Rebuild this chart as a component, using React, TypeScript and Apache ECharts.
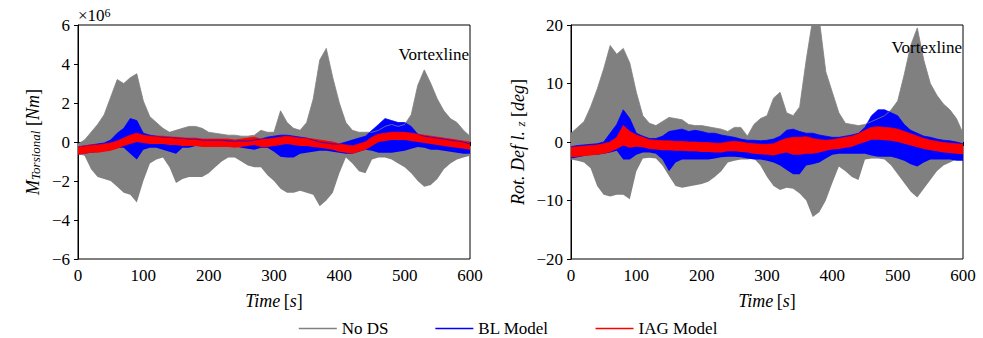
import React, { useEffect, useRef } from 'react';
import * as echarts from 'echarts';

// time grid [s]
const time = [0,10,20,30,40,50,60,70,80,90,100,110,120,130,140,150,160,170,180,190,200,210,220,230,240,250,260,270,280,290,300,310,320,330,340,350,360,370,380,390,400,410,420,430,440,450,460,470,480,490,500,510,520,530,540,550,560,570,580,590,600];

// ---- Left panel: M_Torsional [x1e6 Nm] envelopes ----
const mNoDsUpper = [-0.1,0.1,0.5,0.9,1.4,2.3,3.2,3.0,3.3,3.5,2.1,1.3,1.0,0.7,0.5,0.6,0.7,0.8,0.8,0.7,0.5,0.45,0.4,0.35,0.35,0.3,0.3,0.35,0.6,0.5,0.5,1.6,1.0,0.7,0.6,1.0,2.2,4.2,4.8,3.3,2.0,1.0,0.6,0.5,0.5,0.5,0.6,0.8,0.9,0.8,0.9,1.4,2.9,3.7,3.0,2.2,1.6,1.2,1.0,0.6,0.3];
const mNoDsLower = [-0.6,-0.7,-1.4,-1.8,-1.9,-2.0,-2.3,-2.6,-2.7,-3.1,-2.0,-1.1,-0.9,-0.8,-1.3,-2.1,-1.9,-1.8,-1.8,-1.8,-1.6,-1.3,-1.0,-0.8,-0.8,-1.0,-1.2,-1.3,-1.3,-1.7,-2.0,-2.4,-2.6,-2.6,-2.5,-2.6,-2.7,-3.3,-3.0,-2.6,-1.6,-0.8,-1.1,-1.5,-1.6,-0.9,-0.8,-0.8,-0.9,-1.1,-1.3,-1.6,-2.0,-2.3,-2.2,-1.9,-1.4,-1.1,-0.9,-0.8,-0.7];
const mBlUpper = [-0.25,-0.2,-0.15,-0.1,-0.05,0.1,0.45,0.7,1.2,1.1,0.45,0.35,0.3,0.25,0.25,0.2,0.2,0.15,0.15,0.1,0.1,0.1,0.1,0.05,0.05,0.05,0.05,0.1,0.15,0.25,0.3,0.35,0.35,0.3,0.25,0.2,0.1,0.0,-0.05,-0.1,-0.1,0.0,0.1,0.2,0.3,0.6,0.9,1.2,1.1,1.0,1.0,0.8,0.4,0.3,0.25,0.2,0.15,0.1,0.05,0.0,-0.1];
const mBlLower = [-0.65,-0.6,-0.55,-0.5,-0.45,-0.4,-0.3,-0.3,-0.6,-0.9,-0.4,-0.3,-0.3,-0.4,-0.5,-0.6,-0.3,-0.3,-0.2,-0.2,-0.2,-0.15,-0.15,-0.2,-0.2,-0.3,-0.35,-0.4,-0.3,-0.3,-0.5,-0.75,-0.8,-0.8,-0.6,-0.55,-0.5,-0.45,-0.45,-0.5,-0.55,-0.6,-0.6,-0.5,-0.4,-0.45,-0.55,-0.55,-0.55,-0.5,-0.45,-0.35,-0.25,-0.3,-0.4,-0.4,-0.45,-0.5,-0.55,-0.6,-0.6];
const mIagUpper = [-0.25,-0.2,-0.15,-0.15,-0.1,-0.05,0.05,0.2,0.35,0.45,0.35,0.3,0.3,0.3,0.25,0.25,0.2,0.2,0.2,0.15,0.15,0.15,0.15,0.15,0.1,0.15,0.2,0.25,0.15,0.15,0.2,0.25,0.3,0.25,0.2,0.2,0.15,0.1,0.05,0.0,-0.1,-0.15,-0.2,-0.1,0.0,0.25,0.4,0.45,0.5,0.5,0.5,0.45,0.4,0.35,0.3,0.25,0.2,0.15,0.1,0.05,0.0];
const mIagLower = [-0.65,-0.6,-0.55,-0.55,-0.5,-0.45,-0.35,-0.2,-0.1,0.0,-0.05,-0.1,-0.1,-0.1,-0.15,-0.15,-0.2,-0.2,-0.2,-0.25,-0.25,-0.25,-0.25,-0.25,-0.3,-0.25,-0.2,-0.15,-0.25,-0.25,-0.2,-0.15,-0.1,-0.15,-0.2,-0.2,-0.25,-0.3,-0.35,-0.4,-0.5,-0.55,-0.6,-0.5,-0.4,-0.2,0.0,0.05,0.1,0.1,0.1,0.05,0.0,-0.05,-0.1,-0.15,-0.2,-0.25,-0.3,-0.35,-0.4];

// ---- Right panel: Rot. Defl. z [deg] envelopes ----
const rNoDsUpper = [1.5,2.5,3.5,6.0,9.0,12.5,16.5,15.0,16.0,13.5,8.5,4.5,3.2,2.8,3.5,4.2,4.0,3.8,3.0,2.8,2.8,2.6,2.4,2.2,1.8,2.5,2.5,1.0,3.0,4.0,4.5,7.5,8.5,5.0,4.5,6.0,14.0,21.0,21.0,12.0,8.5,5.0,3.2,3.0,2.8,3.0,3.5,4.0,4.5,5.5,7.0,11.5,16.5,19.5,14.0,10.0,8.0,6.5,5.5,4.0,1.5];
const rNoDsLower = [-3.0,-3.2,-3.5,-4.5,-7.5,-9.0,-9.3,-9.0,-9.0,-9.8,-5.0,-2.8,-2.7,-2.8,-4.0,-5.8,-7.5,-7.8,-7.6,-7.4,-7.2,-6.8,-6.0,-5.0,-3.5,-3.2,-3.0,-3.0,-2.8,-4.0,-6.0,-7.5,-8.2,-7.8,-8.0,-8.8,-10.0,-12.8,-12.0,-10.0,-7.0,-4.2,-5.0,-6.0,-6.5,-3.0,-2.8,-2.8,-3.0,-4.0,-5.5,-7.0,-8.5,-9.5,-8.0,-6.5,-5.0,-4.0,-3.5,-3.0,-3.0];
const rBlUpper = [-0.8,-0.6,-0.5,-0.4,-0.3,0.0,1.5,3.0,5.5,4.0,1.5,1.0,0.6,0.6,1.0,1.8,2.0,2.2,1.8,2.0,1.8,1.5,1.5,1.2,1.0,0.8,0.5,0.3,0.3,0.2,0.3,0.5,1.0,2.0,2.2,1.8,1.5,1.5,1.2,1.0,0.8,0.8,1.0,1.2,1.5,2.5,4.5,5.5,5.5,5.0,4.5,3.0,2.0,1.5,1.0,0.8,0.5,0.3,0.2,0.0,-0.3];
const rBlLower = [-2.8,-2.6,-2.4,-2.2,-2.2,-2.0,-1.8,-1.5,-3.0,-3.0,-2.2,-1.8,-1.8,-2.0,-3.0,-5.0,-3.5,-3.0,-3.0,-3.0,-3.0,-3.0,-2.8,-2.6,-2.5,-2.5,-2.6,-2.8,-3.0,-3.0,-3.2,-3.5,-4.0,-4.8,-5.5,-5.5,-4.0,-3.8,-3.5,-2.8,-2.2,-2.0,-2.0,-2.0,-2.0,-2.0,-2.3,-2.5,-2.5,-2.5,-2.8,-3.2,-3.8,-4.2,-3.5,-3.0,-3.0,-3.0,-3.0,-3.2,-3.2];
const rIagUpper = [-0.9,-0.8,-0.7,-0.6,-0.5,-0.3,0.0,0.8,2.8,1.8,1.2,0.8,0.4,0.3,0.2,0.2,0.1,0.1,0.0,0.0,-0.1,-0.1,-0.2,-0.2,0.0,0.1,0.0,-0.2,-0.3,-0.4,-0.4,-0.3,0.2,0.6,0.8,0.8,0.9,0.6,0.4,0.3,0.4,0.6,0.8,1.0,1.4,2.0,2.5,2.6,2.5,2.4,2.2,1.8,1.4,1.0,0.6,0.3,0.1,-0.1,-0.2,-0.3,-0.4];
const rIagLower = [-2.6,-2.5,-2.4,-2.3,-2.2,-2.0,-1.7,-1.2,-0.6,-1.0,-0.8,-0.9,-1.2,-1.3,-1.4,-1.4,-1.5,-1.5,-1.6,-1.6,-1.7,-1.7,-1.8,-1.8,-1.6,-1.6,-1.7,-1.8,-2.0,-2.1,-2.2,-2.3,-2.0,-1.8,-2.2,-2.2,-2.0,-2.0,-1.8,-1.5,-1.3,-1.2,-1.0,-0.8,-0.4,0.0,0.4,0.4,0.3,0.2,0.0,-0.3,-0.6,-0.9,-1.2,-1.4,-1.6,-1.8,-1.9,-2.0,-2.1];

const legendNames = ['No DS', 'BL Model', 'IAG Model'];
const colors = ['#808080', '#0000ff', '#ff0000'];

const FONT = 'Liberation Serif';

function bandSeries(name: string, color: string, lower: number[], upper: number[], axis: number, id: string) {
  const base = {
    type: 'line', name: '_base_' + id, xAxisIndex: axis, yAxisIndex: axis,
    stack: id, stackStrategy: 'all', symbol: 'none', silent: true,
    lineStyle: { opacity: 0, width: 0 }, data: lower.slice(),
  };
  const band = {
    type: 'line', name: name + ' band ' + id, xAxisIndex: axis, yAxisIndex: axis,
    stack: id, stackStrategy: 'all', symbol: 'none', silent: true,
    lineStyle: { color, width: 0.8 }, itemStyle: { color },
    areaStyle: { color, opacity: 1 },
    data: upper.map((u, k) => u - lower[k]),
  };
  return [base, band];
}

// legend-only entries (line icons)
const legendSeries = legendNames.map((n, i) => ({
  type: 'line', name: n, xAxisIndex: 0, yAxisIndex: 0, data: [], symbol: 'none', silent: true,
  lineStyle: { color: colors[i], width: 1.6 }, itemStyle: { color: colors[i] },
}));

const minus = (v: number) => (v < 0 ? '\u2212' + Math.abs(v) : String(v));

function xAxis(idx: number) {
  return {
    type: 'category', gridIndex: idx, boundaryGap: false,
    data: time.map(String),
    name: '{i|Time} {r|[}{i|s}{r|]}', nameLocation: 'middle', nameGap: 33,
    nameTextStyle: { rich: { i: { fontFamily: FONT, fontStyle: 'italic', fontSize: 18, color: '#000' }, r: { fontFamily: FONT, fontSize: 18, color: '#000' } } },
    axisLine: { show: true, lineStyle: { color: '#000', width: 1 } },
    axisTick: { show: true, length: 4, interval: 9, alignWithLabel: true, lineStyle: { color: '#000' } },
    axisLabel: { fontFamily: FONT, fontSize: 17, color: '#000', margin: 8, interval: 9 },
    splitLine: { show: false },
  };
}

export default function App() {
  const ref = useRef<HTMLDivElement>(null);
  useEffect(() => {
    if (!ref.current) return;
    const chart = echarts.init(ref.current, undefined, { renderer: 'svg' });
    const grids = [
      { left: 78, top: 25, width: 392, height: 234, show: true, borderColor: '#000', borderWidth: 1, backgroundColor: 'transparent' },
      { left: 571, top: 25, width: 392, height: 234, show: true, borderColor: '#000', borderWidth: 1, backgroundColor: 'transparent' },
    ];
    const yBase = {
      type: 'value', nameLocation: 'middle', nameRotate: 90,
      axisLine: { show: true, lineStyle: { color: '#000', width: 1 } },
      axisTick: { show: true, length: 4, lineStyle: { color: '#000' } },
      axisLabel: { fontFamily: FONT, fontSize: 17, color: '#000', margin: 8, formatter: minus },
      splitLine: { show: false },
    };
    const option = {
      animation: false,
      grid: grids,
      xAxis: [xAxis(0), xAxis(1)],
      yAxis: [
        {
          ...yBase, gridIndex: 0, min: -6, max: 6, interval: 2,
          name: '{i|M}{s|Torsional}{r| [}{i|Nm}{r|]}', nameGap: 36,
          nameTextStyle: { rich: {
            i: { fontFamily: FONT, fontStyle: 'italic', fontSize: 18, color: '#000', verticalAlign: 'bottom' },
            s: { fontFamily: FONT, fontStyle: 'italic', fontSize: 13, color: '#000', verticalAlign: 'bottom' },
            r: { fontFamily: FONT, fontSize: 18, color: '#000', verticalAlign: 'bottom' },
          } },
        },
        {
          ...yBase, gridIndex: 1, min: -20, max: 20, interval: 10,
          name: '{i|Rot. Def l. }{s|z}{r| [}{i|deg}{r|]}', nameGap: 44,
          nameTextStyle: { rich: {
            i: { fontFamily: FONT, fontStyle: 'italic', fontSize: 18, color: '#000', verticalAlign: 'bottom' },
            s: { fontFamily: FONT, fontStyle: 'italic', fontSize: 13, color: '#000', verticalAlign: 'bottom' },
            r: { fontFamily: FONT, fontSize: 18, color: '#000', verticalAlign: 'bottom' },
          } },
        },
      ],
      legend: {
        left: 293, top: 315, itemWidth: 38, itemHeight: 12, itemGap: 46,
        textStyle: { fontFamily: FONT, fontSize: 17, color: '#000' },
        selectedMode: false,
        itemStyle: { opacity: 0 },
        lineStyle: { width: 1.6 },
        data: legendNames,
      },
      graphic: [
        { type: 'text', left: 78, top: 7, z: 100, style: { text: '{a|\u00d710}{b|6}', rich: { a: { fontFamily: FONT, fontSize: 17, fill: '#000', verticalAlign: 'bottom' }, b: { fontFamily: FONT, fontSize: 12, fill: '#000', verticalAlign: 'top' } } } },
        { type: 'text', x: 469, y: 54, z: 100, style: { text: 'Vortexline', fontFamily: FONT, fontSize: 17, fill: '#000', align: 'right', verticalAlign: 'middle' } },
        { type: 'text', x: 962, y: 47, z: 100, style: { text: 'Vortexline', fontFamily: FONT, fontSize: 17, fill: '#000', align: 'right', verticalAlign: 'middle' } },
      ],
      series: [
        ...bandSeries(legendNames[0], colors[0], mNoDsLower, mNoDsUpper, 0, 'mg'),
        ...bandSeries(legendNames[1], colors[1], mBlLower, mBlUpper, 0, 'mb'),
        ...bandSeries(legendNames[2], colors[2], mIagLower, mIagUpper, 0, 'mr'),
        ...bandSeries(legendNames[0], colors[0], rNoDsLower, rNoDsUpper, 1, 'rg'),
        ...bandSeries(legendNames[1], colors[1], rBlLower, rBlUpper, 1, 'rb'),
        ...bandSeries(legendNames[2], colors[2], rIagLower, rIagUpper, 1, 'rr'),
        ...legendSeries,
      ],
    };
    chart.setOption(option as any);
    return () => chart.dispose();
  }, []);
  return <div ref={ref} style={{ position: 'fixed', left: 0, top: 0, width: 983, height: 338, background: '#fff' }} />;
}
